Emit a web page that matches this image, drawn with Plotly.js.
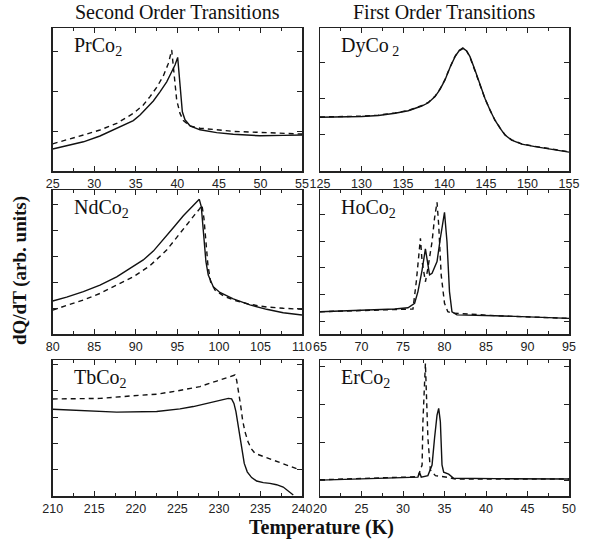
<!DOCTYPE html>
<html>
<head>
<meta charset="utf-8">
<script src="https://cdn.plot.ly/plotly-3.0.1.min.js"></script>
<style>html,body{margin:0;padding:0;background:#fff;}#chart{width:590px;height:539px;}</style>
</head>
<body>
<div id="chart"></div>
<script>
// ---- PrCo2 (second order) ----
const prSolidT = [25, 26.68, 28.7, 30.69, 32.70, 34.70, 35.51, 36.31, 37.11, 37.91, 38.72, 39.32, 39.72, 40.04, 40.32, 40.60, 40.92, 41.52, 42.73, 44.73, 46.73, 49.95, 52.75, 55];
const prSolidY = [0.55, 0.625, 0.73, 0.875, 1.07, 1.26, 1.40, 1.57, 1.75, 1.98, 2.23, 2.48, 2.65, 2.84, 2.15, 1.48, 1.28, 1.13, 1.03, 0.96, 0.92, 0.88, 0.89, 0.90];
const prDashT = [25, 26.68, 28.7, 30.69, 32.70, 34.70, 35.90, 36.71, 37.51, 38.31, 38.92, 39.32, 39.60, 39.92, 40.32, 40.72, 41.52, 42.73, 46.73, 50.74, 55];
const prDashY = [0.68, 0.775, 0.90, 1.025, 1.19, 1.44, 1.65, 1.86, 2.09, 2.375, 2.69, 3.025, 2.36, 1.775, 1.44, 1.26, 1.125, 1.07, 0.99, 0.95, 0.925];

// ---- DyCo2 (first order) ----
const dySolidT = [125, 128.01, 130.02, 132.03, 134.04, 135.64, 137.25, 138.05, 138.86, 139.46, 140.06, 140.66, 141.27, 141.75, 142.27, 142.67, 143.07, 143.67, 144.28, 144.88, 145.48, 146.08, 146.69, 147.29, 148.09, 149.30, 150.90, 153.31, 155];
const dySolidY = [1.48, 1.49, 1.50, 1.53, 1.59, 1.66, 1.79, 1.88, 2.05, 2.25, 2.51, 2.85, 3.15, 3.31, 3.38, 3.31, 3.15, 2.78, 2.37, 2.00, 1.68, 1.40, 1.18, 0.99, 0.85, 0.74, 0.67, 0.58, 0.52];
const dyDashT = [125, 128.01, 130.02, 132.03, 134.04, 135.64, 137.25, 138.05, 138.86, 139.46, 140.06, 140.66, 141.27, 141.75, 142.22, 142.62, 143.02, 143.62, 144.23, 144.85, 145.46, 146.06, 146.69, 147.29, 148.09, 149.30, 150.90, 153.31, 155];
const dyDashY = [1.49, 1.50, 1.51, 1.54, 1.60, 1.67, 1.80, 1.89, 2.06, 2.26, 2.52, 2.86, 3.16, 3.32, 3.39, 3.32, 3.16, 2.79, 2.38, 2.01, 1.69, 1.41, 1.19, 1.00, 0.86, 0.75, 0.68, 0.59, 0.53];

// ---- NdCo2 (second order) ----
const ndSolidT = [80, 81.68, 83.69, 85.69, 87.70, 89.70, 90.90, 92.11, 93.31, 94.51, 95.72, 96.72, 97.32, 97.64, 97.88, 98.04, 98.24, 98.44, 98.72, 99.32, 100.12, 101.73, 103.73, 105.74, 107.74, 110];
const ndSolidY = [1.27, 1.42, 1.63, 1.88, 2.20, 2.59, 2.85, 3.19, 3.62, 4.09, 4.55, 4.90, 5.09, 5.18, 4.90, 4.32, 3.55, 2.78, 2.27, 1.82, 1.60, 1.35, 1.12, 0.95, 0.82, 0.73];
const ndDashT = [80, 81.68, 83.69, 85.69, 87.70, 89.70, 91.71, 93.71, 94.91, 96.12, 97.12, 97.72, 97.96, 98.20, 98.44, 98.68, 99.00, 99.53, 100.53, 101.73, 103.73, 105.74, 107.74, 110];
const ndDashY = [0.92, 1.09, 1.31, 1.56, 1.88, 2.20, 2.63, 3.23, 3.71, 4.22, 4.60, 4.83, 4.96, 4.45, 3.55, 2.65, 2.01, 1.69, 1.47, 1.31, 1.14, 1.04, 0.99, 0.95];

// ---- HoCo2 (first order) ----
const hoSolidT = [65, 70, 74, 75.6, 76.4, 76.8, 77.3, 77.7, 77.9, 78.2, 78.5, 79.1, 79.5, 80.0, 80.3, 80.6, 80.9, 81.5, 86.1, 95];
const hoSolidY = [0.35, 0.39, 0.45, 0.50, 0.67, 1.11, 1.92, 2.72, 2.37, 1.74, 1.80, 2.24, 3.12, 4.10, 2.99, 1.11, 0.35, 0.23, 0.20, 0.10];
const hoDashT = [65, 70, 74, 76.2, 76.6, 76.9, 77.1, 77.3, 77.7, 78.0, 78.5, 78.8, 79.1, 79.3, 79.6, 80.0, 80.4, 80.9, 86.1, 95];
const hoDashY = [0.35, 0.39, 0.44, 0.45, 1.48, 2.62, 3.12, 2.24, 1.48, 1.99, 2.99, 3.88, 4.48, 3.62, 1.74, 0.67, 0.35, 0.30, 0.20, 0.10];

// ---- TbCo2 (second order) ----
const tbSolidT = [210, 213.69, 217.70, 222.51, 225.32, 226.92, 227.72, 229.33, 230.53, 231.13, 231.53, 231.81, 232.05, 232.29, 232.53, 232.77, 233.05, 233.41, 233.94, 234.54, 235.34, 236.14, 236.94, 237.74, 238.55, 238.95];
const tbSolidY = [3.30, 3.24, 3.19, 3.21, 3.31, 3.40, 3.46, 3.56, 3.65, 3.71, 3.69, 3.52, 3.21, 2.70, 2.19, 1.68, 1.24, 0.92, 0.70, 0.57, 0.51, 0.48, 0.43, 0.34, 0.16, 0.04];
const tbDashT = [210, 213.69, 215.69, 219.70, 222.51, 224.91, 227.72, 229.73, 231.33, 231.93, 232.13, 232.37, 232.61, 232.85, 233.13, 233.53, 233.94, 234.34, 235.34, 236.54, 237.74, 238.95, 239.75];
const tbDashY = [3.69, 3.69, 3.71, 3.81, 3.87, 3.99, 4.16, 4.37, 4.54, 4.60, 4.41, 3.97, 3.46, 2.89, 2.45, 2.04, 1.78, 1.62, 1.50, 1.37, 1.24, 1.09, 0.99];

// ---- ErCo2 (first order) ----
const erSolidT = [20, 29.0, 31.8, 32.0, 32.2, 33.0, 33.5, 33.8, 34.1, 34.3, 34.5, 34.7, 34.9, 35.5, 36.1, 41.1, 50];
const erSolidY = [0.00, 0.06, 0.08, 0.20, 0.08, 0.12, 0.40, 1.11, 1.72, 1.90, 1.55, 0.40, 0.21, 0.16, 0.05, 0.04, 0.03];
const erDashT = [20, 31.8, 32.3, 32.4, 32.7, 32.9, 33.0, 33.3, 33.9, 35.5, 36.3, 50];
const erDashY = [0.01, 0.09, 0.40, 1.55, 3.09, 1.99, 1.11, 0.27, 0.12, 0.07, 0.03, 0.03];

// ---- panel text / axes ----
const panelLabels = ['PrCo<sub>2</sub>', 'DyCo<sub> 2</sub>', 'NdCo<sub>2</sub>', 'HoCo<sub>2</sub>', 'TbCo<sub>2</sub>', 'ErCo<sub>2</sub>'];
const xRanges = [[25, 55], [125, 155], [80, 110], [65, 95], [210, 240], [20, 50]];
const yRanges = [[0, 3.575], [0, 3.94], [0, 5.54], [-0.49, 4.94], [0, 5.17], [-0.42, 3.18]];
const columnTitles = ['Second Order Transitions', 'First Order Transitions'];
const yTitle = 'dQ/dT (arb. units)';
const xTitle = 'Temperature (K)';

const series = [
  [prSolidT, prSolidY, prDashT, prDashY],
  [dySolidT, dySolidY, dyDashT, dyDashY],
  [ndSolidT, ndSolidY, ndDashT, ndDashY],
  [hoSolidT, hoSolidY, hoDashT, hoDashY],
  [tbSolidT, tbSolidY, tbDashT, tbDashY],
  [erSolidT, erSolidY, erDashT, erDashY]
];

const W = 590, H = 539;
const xDomains = [[52.7 / W, 302 / W], [320 / W, 569 / W]];
const rowsPx = [[28, 171], [190, 334], [360, 496]];
const yDomains = rowsPx.map(r => [1 - r[1] / H, 1 - r[0] / H]);
const serif = '"Liberation Serif", "Times New Roman", serif';

const traces = [];
const layout = {
  width: W, height: H,
  margin: {l: 0, r: 0, t: 0, b: 0},
  paper_bgcolor: '#fff', plot_bgcolor: '#fff',
  showlegend: false,
  annotations: []
};

series.forEach((s, i) => {
  const n = i + 1;
  const xa = n === 1 ? 'x' : 'x' + n;
  const ya = n === 1 ? 'y' : 'y' + n;
  traces.push({x: s[2], y: s[3], xaxis: xa, yaxis: ya, mode: 'lines',
    line: {color: '#111', width: 1.4, dash: '5px,4px'}, hoverinfo: 'skip'});
  traces.push({x: s[0], y: s[1], xaxis: xa, yaxis: ya, mode: 'lines',
    line: {color: '#111', width: 1.4}, hoverinfo: 'skip'});
  const col = i % 2, row = Math.floor(i / 2);
  const xk = n === 1 ? 'xaxis' : 'xaxis' + n;
  const yk = n === 1 ? 'yaxis' : 'yaxis' + n;
  layout[xk] = {
    domain: xDomains[col], anchor: ya, range: xRanges[i],
    dtick: 5, tick0: 0, ticks: 'inside', ticklen: 5, tickwidth: 1, tickcolor: '#222',
    minor: {dtick: 2.5, ticks: 'inside', ticklen: 3, tickcolor: '#222'},
    showline: true, linecolor: '#222', linewidth: 1.5, mirror: 'ticks',
    showgrid: false, zeroline: false,
    tickfont: {family: '"Liberation Sans", Arial, sans-serif', size: 12.5, color: '#222'}
  };
  layout[yk] = {
    domain: yDomains[row], anchor: xa, range: yRanges[i],
    dtick: 1, tick0: 0, ticks: 'inside', ticklen: 5, tickwidth: 1, tickcolor: '#222',
    showticklabels: false,
    showline: true, linecolor: '#222', linewidth: 1.5, mirror: 'ticks',
    showgrid: false, zeroline: false
  };
  layout.annotations.push({
    text: panelLabels[i], xref: 'paper', yref: 'paper',
    x: xDomains[col][0] + 19 / W, y: yDomains[row][1] - 4 / H,
    xanchor: 'left', yanchor: 'top', showarrow: false,
    font: {family: serif, size: 20, color: '#111'}
  });
});

columnTitles.forEach((t, c) => {
  layout.annotations.push({
    text: t, xref: 'paper', yref: 'paper',
    x: (xDomains[c][0] + xDomains[c][1]) / 2, y: 1 - 12 / H,
    xanchor: 'center', yanchor: 'middle', showarrow: false,
    font: {family: serif, size: 20, color: '#111'}
  });
});

layout.annotations.push({
  text: '<b>' + yTitle + '</b>', xref: 'paper', yref: 'paper',
  x: 20 / W, y: 1 - 271 / H, textangle: -90,
  xanchor: 'center', yanchor: 'middle', showarrow: false,
  font: {family: serif, size: 19, color: '#111'}
});
layout.annotations.push({
  text: '<b>' + xTitle + '</b>', xref: 'paper', yref: 'paper',
  x: 322 / W, y: 1 - 527 / H,
  xanchor: 'center', yanchor: 'middle', showarrow: false,
  font: {family: serif, size: 20, color: '#111'}
});

Plotly.newPlot('chart', traces, layout, {staticPlot: true, displayModeBar: false});
</script>
</body>
</html>
